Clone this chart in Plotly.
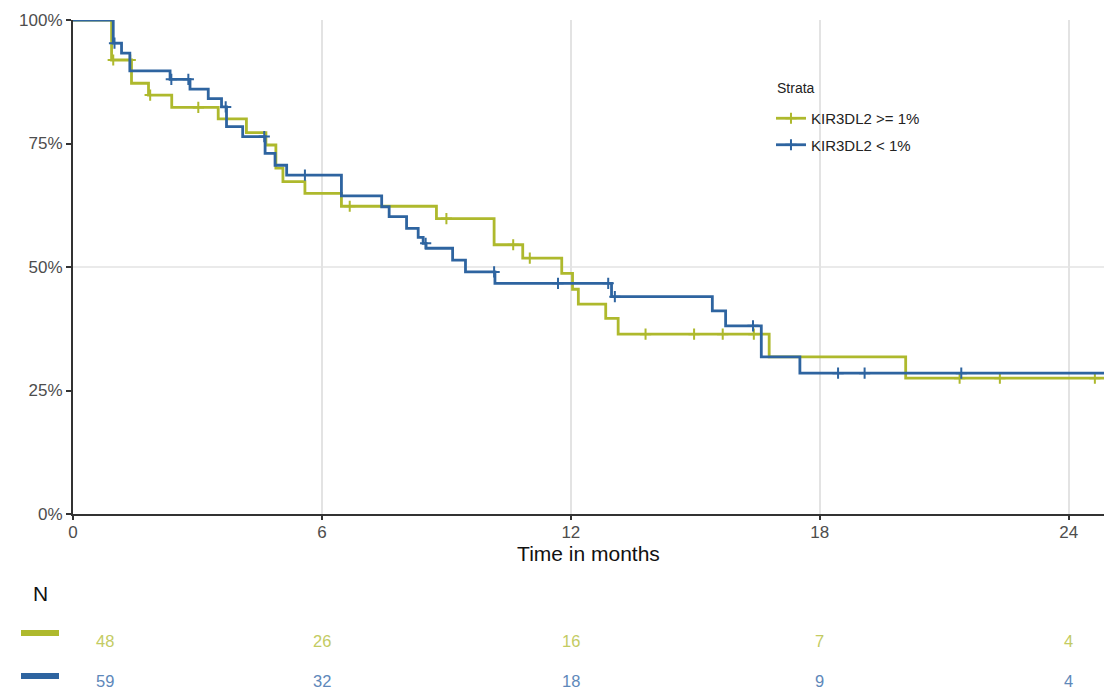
import plotly.graph_objects as go
import numpy as np

# ---- data ----
x_max = 24.85
hi_label = "KIR3DL2 >= 1%"
lo_label = "KIR3DL2 < 1%"
hi_color = "#AEB92D"
lo_color = "#2E64A0"
hi_text_color = "#C3CB62"
lo_text_color = "#5E88BA"

hi_times = [0, 0.93, 1.41, 1.82, 2.38, 3.50, 4.18, 4.65, 4.89, 5.06, 5.59, 6.47, 8.76, 10.15,
            10.84, 11.78, 12.04, 12.18, 12.84, 13.14, 16.78, 20.07]
hi_surv = [1.0, 0.919, 0.872, 0.848, 0.823, 0.800, 0.772, 0.747, 0.700, 0.673, 0.649, 0.623, 0.598,
           0.545, 0.518, 0.487, 0.455, 0.425, 0.396, 0.364, 0.318, 0.275]
hi_censor = [0.97, 1.38, 1.86, 3.02, 6.67, 9.0, 10.61, 11.01, 13.8, 14.97, 15.66, 16.41,
             21.37, 22.34, 24.63]

lo_times = [0, 0.97, 1.17, 1.37, 2.34, 2.82, 3.26, 3.58, 3.70, 4.09, 4.63, 4.87, 5.15, 6.47, 7.44,
            7.62, 8.04, 8.32, 8.44, 8.51, 9.15, 9.46, 10.17, 12.98, 15.41, 15.73, 16.59, 17.52]
lo_surv = [1.0, 0.953, 0.933, 0.897, 0.880, 0.860, 0.841, 0.824, 0.784, 0.764, 0.730, 0.706, 0.686,
           0.644, 0.622, 0.602, 0.578, 0.560, 0.548, 0.538, 0.514, 0.490, 0.467, 0.440, 0.411,
           0.381, 0.318, 0.285]
lo_censor = [1.0, 2.37, 2.78, 3.68, 4.61, 5.59, 8.50, 10.15, 11.69, 12.90, 13.06, 16.39,
             18.44, 19.08, 21.41]

risk_times = [0, 6, 12, 18, 24]
risk_hi = [48, 26, 16, 7, 4]
risk_lo = [59, 32, 18, 9, 4]

x_ticks = [0, 6, 12, 18, 24]
y_ticks = [0, 0.25, 0.5, 0.75, 1.0]
y_tick_text = ["0%", "25%", "50%", "75%", "100%"]


def surv_at(times, surv, t):
    idx = np.searchsorted(np.array(times), t, side="right") - 1
    return surv[max(idx, 0)]


fig = go.Figure()

for times, surv, cens, color, name, grp in [
    (hi_times, hi_surv, hi_censor, hi_color, hi_label, "hi"),
    (lo_times, lo_surv, lo_censor, lo_color, lo_label, "lo"),
]:
    xs = list(times) + [x_max]
    ys = list(surv) + [surv[-1]]
    fig.add_trace(go.Scatter(x=xs, y=ys, mode="lines", line=dict(color=color, width=2.8, shape="hv"),
                             showlegend=False, hoverinfo="skip"))
    cy = [surv_at(times, surv, t) for t in cens]
    fig.add_trace(go.Scatter(x=cens, y=cy, mode="markers",
                             marker=dict(symbol="cross-thin", size=8, line=dict(color=color, width=2)),
                             showlegend=False, hoverinfo="skip"))
    fig.add_trace(go.Scatter(x=[None], y=[None], mode="lines+markers", name=name, legendgroup=grp,
                             line=dict(color=color, width=2.8),
                             marker=dict(symbol="cross-thin", size=8, line=dict(color=color, width=2))))

# 50% horizontal grid line
fig.add_shape(type="line", xref="paper", yref="y", x0=0, x1=1, y0=0.5, y1=0.5,
              line=dict(color="#E3E3E3", width=1.5), layer="below")

FONT = "Liberation Sans, Arial, sans-serif"

fig.update_layout(
    width=1104, height=692,
    margin=dict(l=73, r=0, t=20, b=178),
    paper_bgcolor="white", plot_bgcolor="white",
    font=dict(family=FONT),
    xaxis=dict(range=[0, x_max], tickvals=x_ticks, ticktext=[str(t) for t in x_ticks],
               showgrid=True, gridcolor="#E3E3E3", gridwidth=1.5,
               showline=True, linecolor="#333333", linewidth=2,
               ticks="outside", ticklen=4, tickwidth=1.5, tickcolor="#333333",
               ticklabelstandoff=-2,
               tickfont=dict(size=17, color="#4D4D4D", family=FONT),
               zeroline=False,
               title=dict(text="Time in months", font=dict(size=21, color="#111111", family=FONT),
                          standoff=2)),
    yaxis=dict(range=[0, 1], tickvals=y_ticks, ticktext=y_tick_text,
               showgrid=False, showline=True, linecolor="#333333", linewidth=2,
               ticks="outside", ticklen=5, tickwidth=1.5, tickcolor="#333333",
               tickfont=dict(size=17, color="#4D4D4D", family=FONT), zeroline=False),
    legend=dict(x=0.677, y=(514 - 102) / 494, xanchor="left", yanchor="top",
                font=dict(size=15, color="#222222"), bgcolor="rgba(0,0,0,0)",
                itemwidth=30, tracegroupgap=4),
)

# legend title
fig.add_annotation(text="Strata", xref="paper", yref="paper", x=(775 - 73) / 1031,
                   y=(514 - 88) / 494, showarrow=False, xanchor="left", yanchor="middle",
                   font=dict(size=14, color="#222222"))

# Risk table
fig.add_annotation(text="N", xref="paper", yref="paper", x=(40 - 73) / 1031, y=(514 - 593) / 494,
                   showarrow=False, font=dict(size=21, color="#111111"), xanchor="center",
                   yanchor="middle")
for row_y, bar_y, color, bar_color, vals in [((514 - 641) / 494, (514 - 633) / 494, hi_text_color, hi_color, risk_hi),
                                             ((514 - 681) / 494, (514 - 676) / 494, lo_text_color, lo_color, risk_lo)]:
    for t, v in zip(risk_times, vals):
        fig.add_annotation(text=str(v), xref="x", yref="paper", x=max(t, 0.78), y=row_y,
                           showarrow=False, font=dict(size=16.5, color=color), borderpad=0,
                           xanchor="center", yanchor="middle")
    fig.add_shape(type="rect", xref="paper", yref="paper",
                  x0=(21 - 73) / 1031, x1=(59 - 73) / 1031,
                  y0=bar_y + 3 / 494, y1=bar_y - 3 / 494,
                  fillcolor=bar_color, line=dict(width=0))

fig.write_html("out.html")
